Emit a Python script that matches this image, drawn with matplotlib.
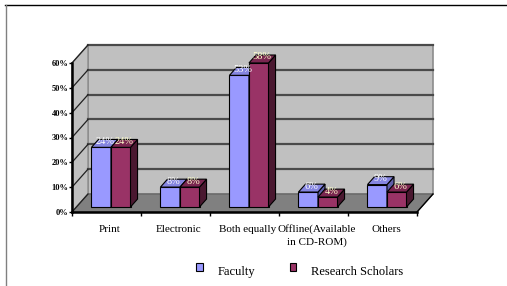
import matplotlib
matplotlib.use("Agg")
import matplotlib.pyplot as plt
from matplotlib.patches import Polygon, Rectangle
from matplotlib.lines import Line2D
from matplotlib.legend_handler import HandlerPatch

plt.rcParams['font.family'] = ['Liberation Serif', 'DejaVu Serif']

# data
categories = ["Print", "Electronic", "Both equally", "Offline(Available\nin CD-ROM)", "Others"]
faculty = [24, 8, 53, 6, 9]
scholars = [24, 8, 58, 4, 6]
series_names = ["Faculty", "Research Scholars"]
yticks = [0, 10, 20, 30, 40, 50, 60]
ytick_labels = ["0%", "10%", "20%", "30%", "40%", "50%", "60%"]

front_cols = ["#9999ff", "#993366"]
side_cols = ["#5f5fa8", "#4a1830"]
top_cols = ["#8585e0", "#7a2650"]
label_cols = ["#ffffff", "#ffffcc"]

W, H = 507, 286
fig = plt.figure(figsize=(W / 100, H / 100), dpi=100)
ax = fig.add_axes([72 / W, 1 - 212 / H, (417 - 72) / W, (212 - 63) / H])
n = len(categories)
ax.set_xlim(0, n)
ax.set_ylim(0, 60)
for s in ax.spines.values():
    s.set_visible(False)

# depth of the 3d box in data units (16 px right, 18 px up)
dx = 16 / 69
dy = 18 / (149 / 60)

kw = dict(clip_on=False)
# back wall
ax.add_patch(Polygon([(dx, dy), (n + dx, dy), (n + dx, 60 + dy), (dx, 60 + dy)],
                     closed=True, fc="#c0c0c0", ec="#8c8c8c", lw=1.2, zorder=1, **kw))
# left wall
ax.add_patch(Polygon([(0, 0), (dx, dy), (dx, 60 + dy), (0, 60)],
                     closed=True, fc="#c0c0c0", ec="#8c8c8c", lw=1.0, zorder=1, **kw))
# floor
ax.add_patch(Polygon([(0, 0), (n, 0), (n + dx, dy), (dx, dy)],
                     closed=True, fc="#808080", ec="#606060", lw=0.8, zorder=1.5, **kw))
ax.add_line(Line2D([n, n + dx], [0, dy], color="black", lw=1.0, zorder=2, **kw))
for v in yticks[1:]:
    ax.add_line(Line2D([dx, n + dx], [v + dy, v + dy], color="#4a4a4a", lw=1.6, zorder=2, **kw))
    ax.add_line(Line2D([0, dx], [v, v + dy], color="#202020", lw=0.9, zorder=2, **kw))
ax.add_line(Line2D([0, dx], [0, dy], color="#202020", lw=0.9, zorder=2, **kw))

# front axes
ax.add_line(Line2D([0, 0], [0, 60], color="black", lw=1.8, zorder=3, **kw))
ax.add_line(Line2D([0, n], [0, 0], color="black", lw=1.8, zorder=3, **kw))

# bars
w = 0.283
f1, f2 = 0.28, 0.72
for i in range(n):
    for j, vals in enumerate([faculty, scholars]):
        v = vals[i]
        x0 = i + 0.5 - w + j * w + f1 * dx
        x1 = x0 + w
        yb = f1 * dy
        yt = v + f1 * dy
        ddx = (f2 - f1) * dx
        ddy = (f2 - f1) * dy
        ax.add_patch(Polygon([(x0, yb), (x1, yb), (x1, yt), (x0, yt)], closed=True,
                             fc=front_cols[j], ec="black", lw=0.8, zorder=4 + j, **kw))
        ax.add_patch(Polygon([(x1, yb), (x1 + ddx, yb + ddy), (x1 + ddx, yt + ddy), (x1, yt)],
                             closed=True, fc=side_cols[j], ec="black", lw=0.8, zorder=4 + j, **kw))
        ax.add_patch(Polygon([(x0, yt), (x1, yt), (x1 + ddx, yt + ddy), (x0 + ddx, yt + ddy)],
                             closed=True, fc=top_cols[j], ec="black", lw=0.8, zorder=4 + j, **kw))
        ax.text(x0 + w / 2 + ddx / 2, yt + ddy / 2 + 0.8, f"{v}%", color=label_cols[j],
                fontsize=7.5, ha="center", va="center", zorder=8)

# ticks
ax.set_yticks(yticks)
ax.set_yticklabels(ytick_labels, fontsize=6, fontweight="bold")
ax.tick_params(axis="y", length=2, width=1, pad=0.5)
ax.set_xticks(range(n + 1))
ax.set_xticklabels([""] * (n + 1))
ax.set_xticks([i + 0.55 for i in range(n)], minor=True)
ax.set_xticklabels(categories, minor=True, fontsize=8, linespacing=1.45)
ax.tick_params(axis="x", which="major", length=3, width=1)
ax.tick_params(axis="x", which="minor", length=0, pad=9)


# legend keys sit a little above the text, as in the original
def raised_box(legend, orig_handle, xdescent, ydescent, width, height, fontsize):
    return Rectangle((-xdescent, -ydescent + height * 0.45), width, height)


handles = [Rectangle((0, 0), 1, 1, fc=c, ec="black", lw=0.8) for c in front_cols]
fig.legend(handles, series_names, loc="center", bbox_to_anchor=(300 / W, 1 - 272 / H),
           ncol=2, frameon=False, fontsize=9, handlelength=0.5, handleheight=0.6,
           handletextpad=1.2, columnspacing=2.8,
           handler_map={Rectangle: HandlerPatch(patch_func=raised_box)})

# outer frame
fig.add_artist(Line2D([5 / W, 1], [1 - 5 / H, 1 - 5 / H], color="black", lw=1,
                      transform=fig.transFigure))
fig.add_artist(Line2D([6 / W, 6 / W], [0, 1 - 5 / H], color="#808080", lw=1,
                      transform=fig.transFigure))

fig.savefig("out.png", dpi=100)
